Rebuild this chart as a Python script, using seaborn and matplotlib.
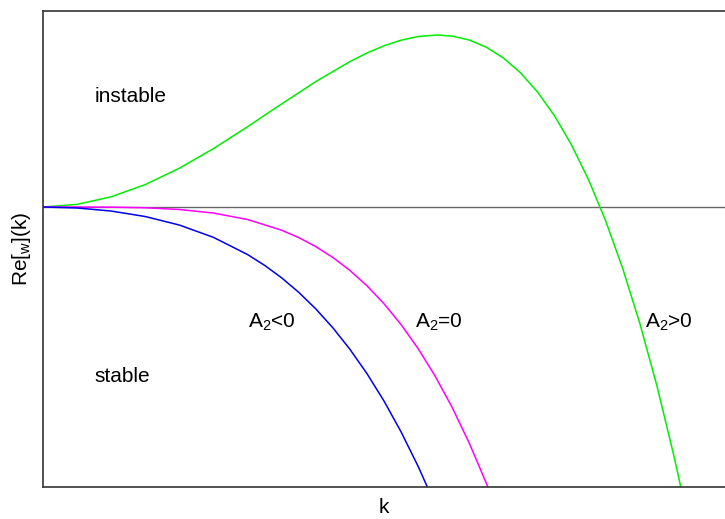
import matplotlib
matplotlib.use("Agg")
import matplotlib.pyplot as plt
import seaborn as sns
import pandas as pd

# Curves (k in arbitrary units 0..10, Re[w] arbitrary units)
k_pos = [0, 0.5, 1.0, 1.5, 2.0, 2.5, 3.0, 3.5, 4.0, 4.5, 4.75, 5.0, 5.25, 5.5, 5.78,
         6.0, 6.25, 6.5, 6.75, 7.0, 7.25, 7.5, 7.75, 8.0, 8.25, 8.5, 8.75, 9.0, 9.25, 9.4]
re_pos = [0, 0.026, 0.102, 0.224, 0.388, 0.584, 0.803, 1.031, 1.254, 1.454, 1.540, 1.612,
          1.668, 1.705, 1.720, 1.709, 1.670, 1.598, 1.491, 1.343, 1.151, 0.912, 0.620,
          0.272, -0.138, -0.614, -1.161, -1.783, -2.486, -2.949]

k_zero = [0, 0.5, 1.0, 1.5, 2.0, 2.5, 3.0, 3.5, 3.75, 4.0, 4.25, 4.5, 4.75, 5.0, 5.25,
          5.5, 5.75, 6.0, 6.25, 6.5, 6.6]
re_zero = [0, -0.0001, -0.0015, -0.0078, -0.0248, -0.0604, -0.1253, -0.2321, -0.3059,
           -0.3960, -0.5047, -0.6343, -0.7875, -0.9669, -1.1752, -1.4156, -1.6910,
           -2.0049, -2.3606, -2.7615, -2.9354]

k_neg = [0, 0.5, 1.0, 1.5, 2.0, 2.5, 3.0, 3.25, 3.5, 3.75, 4.0, 4.25, 4.5, 4.75, 5.0,
         5.25, 5.5, 5.7]
re_neg = [0, -0.0098, -0.0405, -0.0954, -0.1805, -0.3037, -0.4757, -0.5838, -0.7090,
          -0.8534, -1.0189, -1.2079, -1.4227, -1.6659, -1.9401, -2.2483, -2.5932, -2.8979]

series_names = ["A2>0", "A2=0", "A2<0"]
series_colors = ["#00ee00", "#ff00ff", "#0000ee"]

sns.set_theme(style="white")
plt.rcParams['font.family'] = ['Liberation Sans', 'DejaVu Sans']
plt.rcParams['text.color'] = 'black'
plt.rcParams['axes.labelcolor'] = 'black'

fig = plt.figure(figsize=(7.25, 5.19), dpi=100)
ax = fig.add_axes([43 / 725, 1 - 487 / 519, 1 - 43 / 725, (487 - 11) / 519])

frames = []
for name, ks, rs in zip(series_names, [k_pos, k_zero, k_neg], [re_pos, re_zero, re_neg]):
    frames.append(pd.DataFrame({"k": ks, "re": rs, "case": name}))
df = pd.concat(frames, ignore_index=True)

ax.axhline(0, color="#666666", lw=1.0, zorder=1)
sns.lineplot(data=df, x="k", y="re", hue="case", palette=dict(zip(series_names, series_colors)),
             sort=False, estimator=None, lw=1.1, legend=False, ax=ax, zorder=2)

ax.set_xlim(0, 10)
ax.set_ylim(-2.80, 1.96)
ax.set_xticks([])
ax.set_yticks([])
for s in ["left", "top", "bottom"]:
    ax.spines[s].set_color("#333333")
    ax.spines[s].set_linewidth(1.2)
ax.spines["right"].set_visible(False)

ax.set_xlabel("k", fontsize=15, labelpad=8)
ax.set_ylabel(r"Re[$\mathregular{_w}$](k)", fontsize=15, labelpad=7)

fs = 15
ax.text(0.76, 1.10, "instable", fontsize=fs, va="center", ha="left")
ax.text(0.76, -1.70, "stable", fontsize=fs, va="center", ha="left")
ax.text(3.0, -1.15, r"A$\mathregular{_2}$<0", fontsize=fs, va="center", ha="left")
ax.text(5.45, -1.15, r"A$\mathregular{_2}$=0", fontsize=fs, va="center", ha="left")
ax.text(8.83, -1.15, r"A$\mathregular{_2}$>0", fontsize=fs, va="center", ha="left")

fig.savefig("out.png", dpi=100)
